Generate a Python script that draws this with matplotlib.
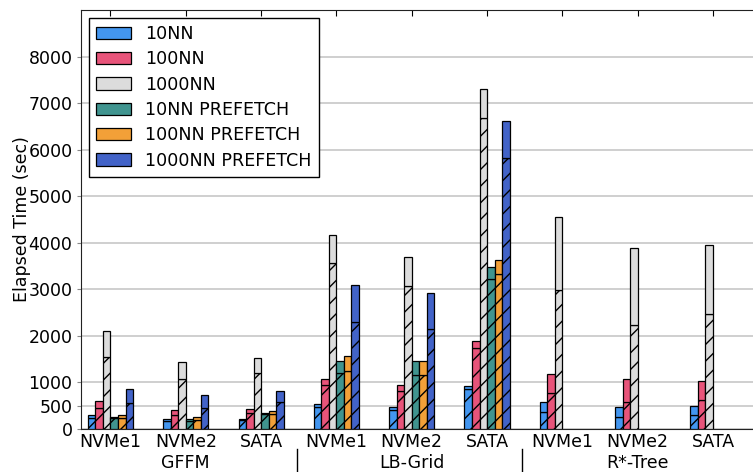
import matplotlib
matplotlib.use("Agg")
import matplotlib.pyplot as plt
import matplotlib.transforms as mtransforms
import numpy as np

groups = ["GFFM", "LB-Grid", "R*-Tree"]
devices = ["NVMe1", "NVMe2", "SATA"]
series = ["10NN", "100NN", "1000NN", "10NN PREFETCH", "100NN PREFETCH", "1000NN PREFETCH"]
colors = ["#4396f0", "#e8547a", "#dcdcdc", "#40948f", "#f2a038", "#4263c8"]

nan = np.nan
# total elapsed time per bar (GFFM x3, LB-Grid x3, R*-Tree x3)
totals = {
    "10NN": [300, 208, 215, 545, 466, 925, 581, 466, 502],
    "100NN": [595, 408, 423, 1082, 946, 1886, 1176, 1083, 1025],
    "1000NN": [2114, 1448, 1520, 4172, 3699, 7305, 4545, 3885, 3950],
    "10NN PREFETCH": [265, 208, 337, 1455, 1455, 3477, nan, nan, nan],
    "100NN PREFETCH": [294, 251, 380, 1563, 1469, 3628, nan, nan, nan],
    "1000NN PREFETCH": [853, 724, 810, 3090, 2925, 6624, nan, nan, nan],
}
# hatched lower part of each bar
lowers = {
    "10NN": [230, 165, 186, 473, 401, 860, 358, 265, 294],
    "100NN": [458, 308, 351, 946, 810, 1742, 767, 573, 624],
    "1000NN": [1542, 1082, 1197, 3563, 3068, 6680, 2989, 2244, 2473],
    "10NN PREFETCH": [237, 179, 330, 1197, 1161, 3226, nan, nan, nan],
    "100NN PREFETCH": [244, 194, 323, 1254, 1161, 3319, nan, nan, nan],
    "1000NN PREFETCH": [552, 452, 588, 2294, 2143, 5830, nan, nan, nan],
}

yticks = [0, 500, 1000, 2000, 3000, 4000, 5000, 6000, 7000, 8000]

fig = plt.figure(figsize=(7.53, 4.72), dpi=100)
ax = fig.add_axes([0.1082, 0.0911, 0.8912, 0.8877])

x = np.arange(len(groups) * len(devices))
width = 0.1
for k, name in enumerate(series):
    tot = np.array(totals[name], dtype=float)
    low = np.array(lowers[name], dtype=float)
    m = ~np.isnan(tot)
    xs = x[m] + (k - 2.5) * width
    ax.bar(xs, low[m], width, color=colors[k], edgecolor="black", linewidth=0.9,
           hatch="//", zorder=3)
    ax.bar(xs, tot[m] - low[m], width, bottom=low[m], color=colors[k],
           edgecolor="black", linewidth=0.9, zorder=3, label=name)

ax.set_xlim(-0.385, 8.525)
ax.set_ylim(0, 9000)
ax.set_yticks(yticks)
ax.set_xticks(x)
ax.set_xticklabels(devices * len(groups))
ax.yaxis.grid(True, color="#cccccc", linewidth=1.3, zorder=0)
ax.set_axisbelow(True)
ax.tick_params(axis="x", direction="in", top=True, length=4, labelsize=12.5, pad=3)
ax.tick_params(axis="y", direction="out", length=3, color="#888888", labelsize=12.5)
ax.spines["right"].set_visible(False)
for s in ["left", "top", "bottom"]:
    ax.spines[s].set_color("#222222")

ax.set_ylabel("Elapsed Time (sec)", fontsize=12.5)
ax.yaxis.set_label_coords(-0.075, 0.5)

trans = mtransforms.blended_transform_factory(ax.transData, ax.transAxes)
for g, name in enumerate(groups):
    ax.text(g * 3 + 1, -0.08, name, transform=trans, ha="center", va="center",
            fontsize=12.5)
for sep in [2.5, 5.5]:
    ax.plot([sep - 0.03, sep - 0.03], [-0.048, -0.11], transform=trans,
            color="black", linewidth=1, clip_on=False)

leg = ax.legend(loc="upper left", fontsize=12.6, fancybox=False, framealpha=1,
                edgecolor="black", borderaxespad=0.45, labelspacing=0.42)
leg.get_frame().set_linewidth(1)

fig.savefig("out.png", dpi=100)
